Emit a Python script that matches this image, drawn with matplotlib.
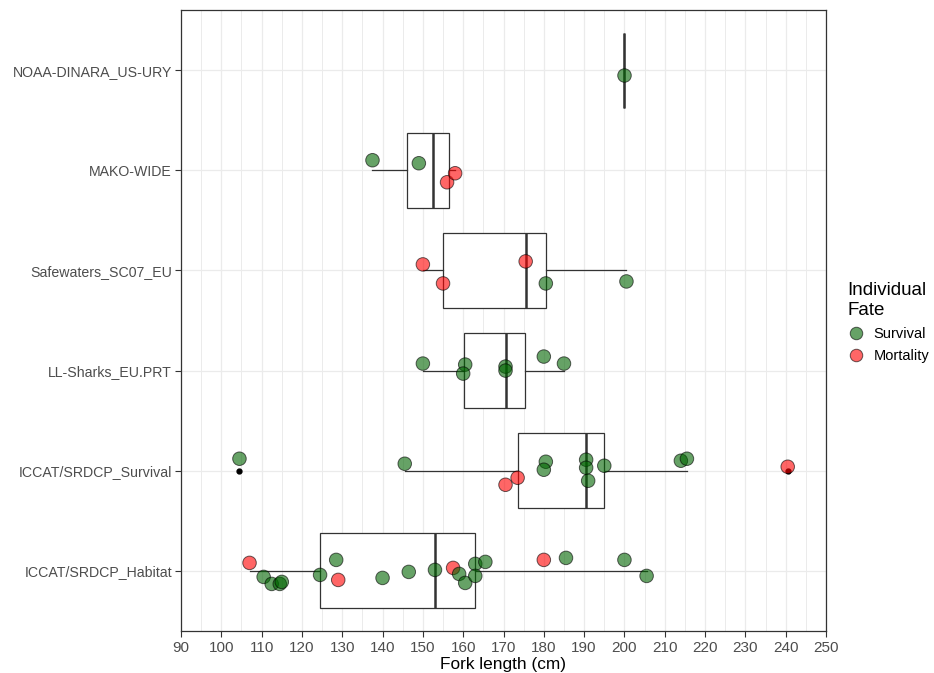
import numpy as np
import matplotlib
matplotlib.use('Agg')
import matplotlib.pyplot as plt
from matplotlib.lines import Line2D

plt.rcParams['font.family'] = ['Liberation Sans', 'DejaVu Sans']

groups = ['ICCAT/SRDCP_Habitat', 'ICCAT/SRDCP_Survival', 'LL-Sharks_EU.PRT',
          'Safewaters_SC07_EU', 'MAKO-WIDE', 'NOAA-DINARA_US-URY']

# fork lengths (cm), fate (S = survival, M = mortality), vertical jitter
habitat_fl = [107, 110.5, 112.5, 114.5, 115, 124.5, 128.5, 129, 140, 146.5, 153,
              157.5, 159, 160.5, 163, 163, 165.5, 180, 185.5, 200, 205.5]
habitat_fate = list('MSSSSSSMSSSMSSSSSMSSS')
habitat_jit = [0.08, -0.06, -0.13, -0.13, -0.11, -0.04, 0.11, -0.09, -0.07, -0.01, 0.01,
               0.03, -0.03, -0.12, 0.07, -0.05, 0.09, 0.11, 0.13, 0.11, -0.05]

survival_fl = [104.5, 145.5, 170.5, 173.5, 180.5, 180, 190.5, 190.5, 191, 195, 214, 215.5, 240.5]
survival_fate = list('SSMMSSSSSSSSM')
survival_jit = [0.12, 0.07, -0.14, -0.07, 0.09, 0.01, 0.11, 0.03, -0.10, 0.05, 0.10, 0.12, 0.04]

llsharks_fl = [150, 160.5, 160, 170.5, 170.5, 180, 185]
llsharks_fate = list('SSSSSSS')
llsharks_jit = [0.07, 0.06, -0.03, 0.04, 0.0, 0.14, 0.07]

safewaters_fl = [150, 155, 175.5, 180.5, 200.5]
safewaters_fate = list('MMMSS')
safewaters_jit = [0.06, -0.13, 0.09, -0.13, -0.11]

mako_fl = [137.5, 149, 156, 158]
mako_fate = list('SSMM')
mako_jit = [0.10, 0.07, -0.12, -0.03]

noaa_fl = [200]
noaa_fate = list('S')
noaa_jit = [-0.05]

all_fl = [habitat_fl, survival_fl, llsharks_fl, safewaters_fl, mako_fl, noaa_fl]
all_fate = [habitat_fate, survival_fate, llsharks_fate, safewaters_fate, mako_fate, noaa_fate]
all_jit = [habitat_jit, survival_jit, llsharks_jit, safewaters_jit, mako_jit, noaa_jit]

fate_colors = {'S': 'darkgreen', 'M': 'red'}

fig = plt.figure(figsize=(9.34, 6.73), dpi=100)
ax = fig.add_axes([181/934, 1-631/673, (826-181)/934, (631-10)/673])

pos = np.arange(1, len(groups) + 1)
ax.boxplot(all_fl, positions=pos, orientation='horizontal', widths=0.75, whis=1.5,
           patch_artist=True, showcaps=False,
           boxprops=dict(facecolor='white', edgecolor='#333333', linewidth=0.9),
           medianprops=dict(color='#333333', linewidth=1.8),
           whiskerprops=dict(color='#333333', linewidth=0.9),
           flierprops=dict(marker='o', markersize=3.5, markerfacecolor='black',
                           markeredgecolor='black'))

for i in range(len(groups)):
    fl = np.array(all_fl[i])
    yy = pos[i] + np.array(all_jit[i])
    cols = [fate_colors[f] for f in all_fate[i]]
    ax.scatter(fl, yy, s=95, c=cols, alpha=0.6, edgecolors='black', linewidths=0.7, zorder=5)

ax.set_xlim(90, 250)
ax.set_ylim(0.4, 6.6)
ax.set_xticks(np.arange(90, 251, 10))
ax.set_xticks(np.arange(95, 250, 10), minor=True)
ax.set_yticks(pos)
ax.set_yticklabels(groups)
ax.grid(True, which='major', color='#ebebeb', linewidth=0.9)
ax.grid(True, which='minor', axis='x', color='#ebebeb', linewidth=0.7)
ax.set_axisbelow(True)
ax.tick_params(axis='both', which='major', labelsize=11, labelcolor='#4d4d4d',
               color='#333333', length=4, width=0.8)
ax.tick_params(axis='y', labelsize=10.2, pad=2.5)
ax.tick_params(which='minor', length=0)
for sp in ax.spines.values():
    sp.set_color('#333333')
    sp.set_linewidth(0.9)
ax.set_xlabel('Fork length (cm)', fontsize=12.4, labelpad=1)

handles = [Line2D([], [], marker='o', linestyle='', markersize=9, markerfacecolor='darkgreen',
                  markeredgecolor='black', markeredgewidth=0.7, alpha=0.6),
           Line2D([], [], marker='o', linestyle='', markersize=9, markerfacecolor='red',
                  markeredgecolor='black', markeredgewidth=0.7, alpha=0.6)]
leg = fig.legend(handles, ['Survival', 'Mortality'], title='Individual\nFate',
                 loc='upper left', bbox_to_anchor=(834/934, 1-269/673), frameon=False,
                 fontsize=10.5, title_fontsize=13.5, alignment='left',
                 handletextpad=0.6, labelspacing=0.55, handlelength=1.2)

fig.savefig('out.png', dpi=100)
